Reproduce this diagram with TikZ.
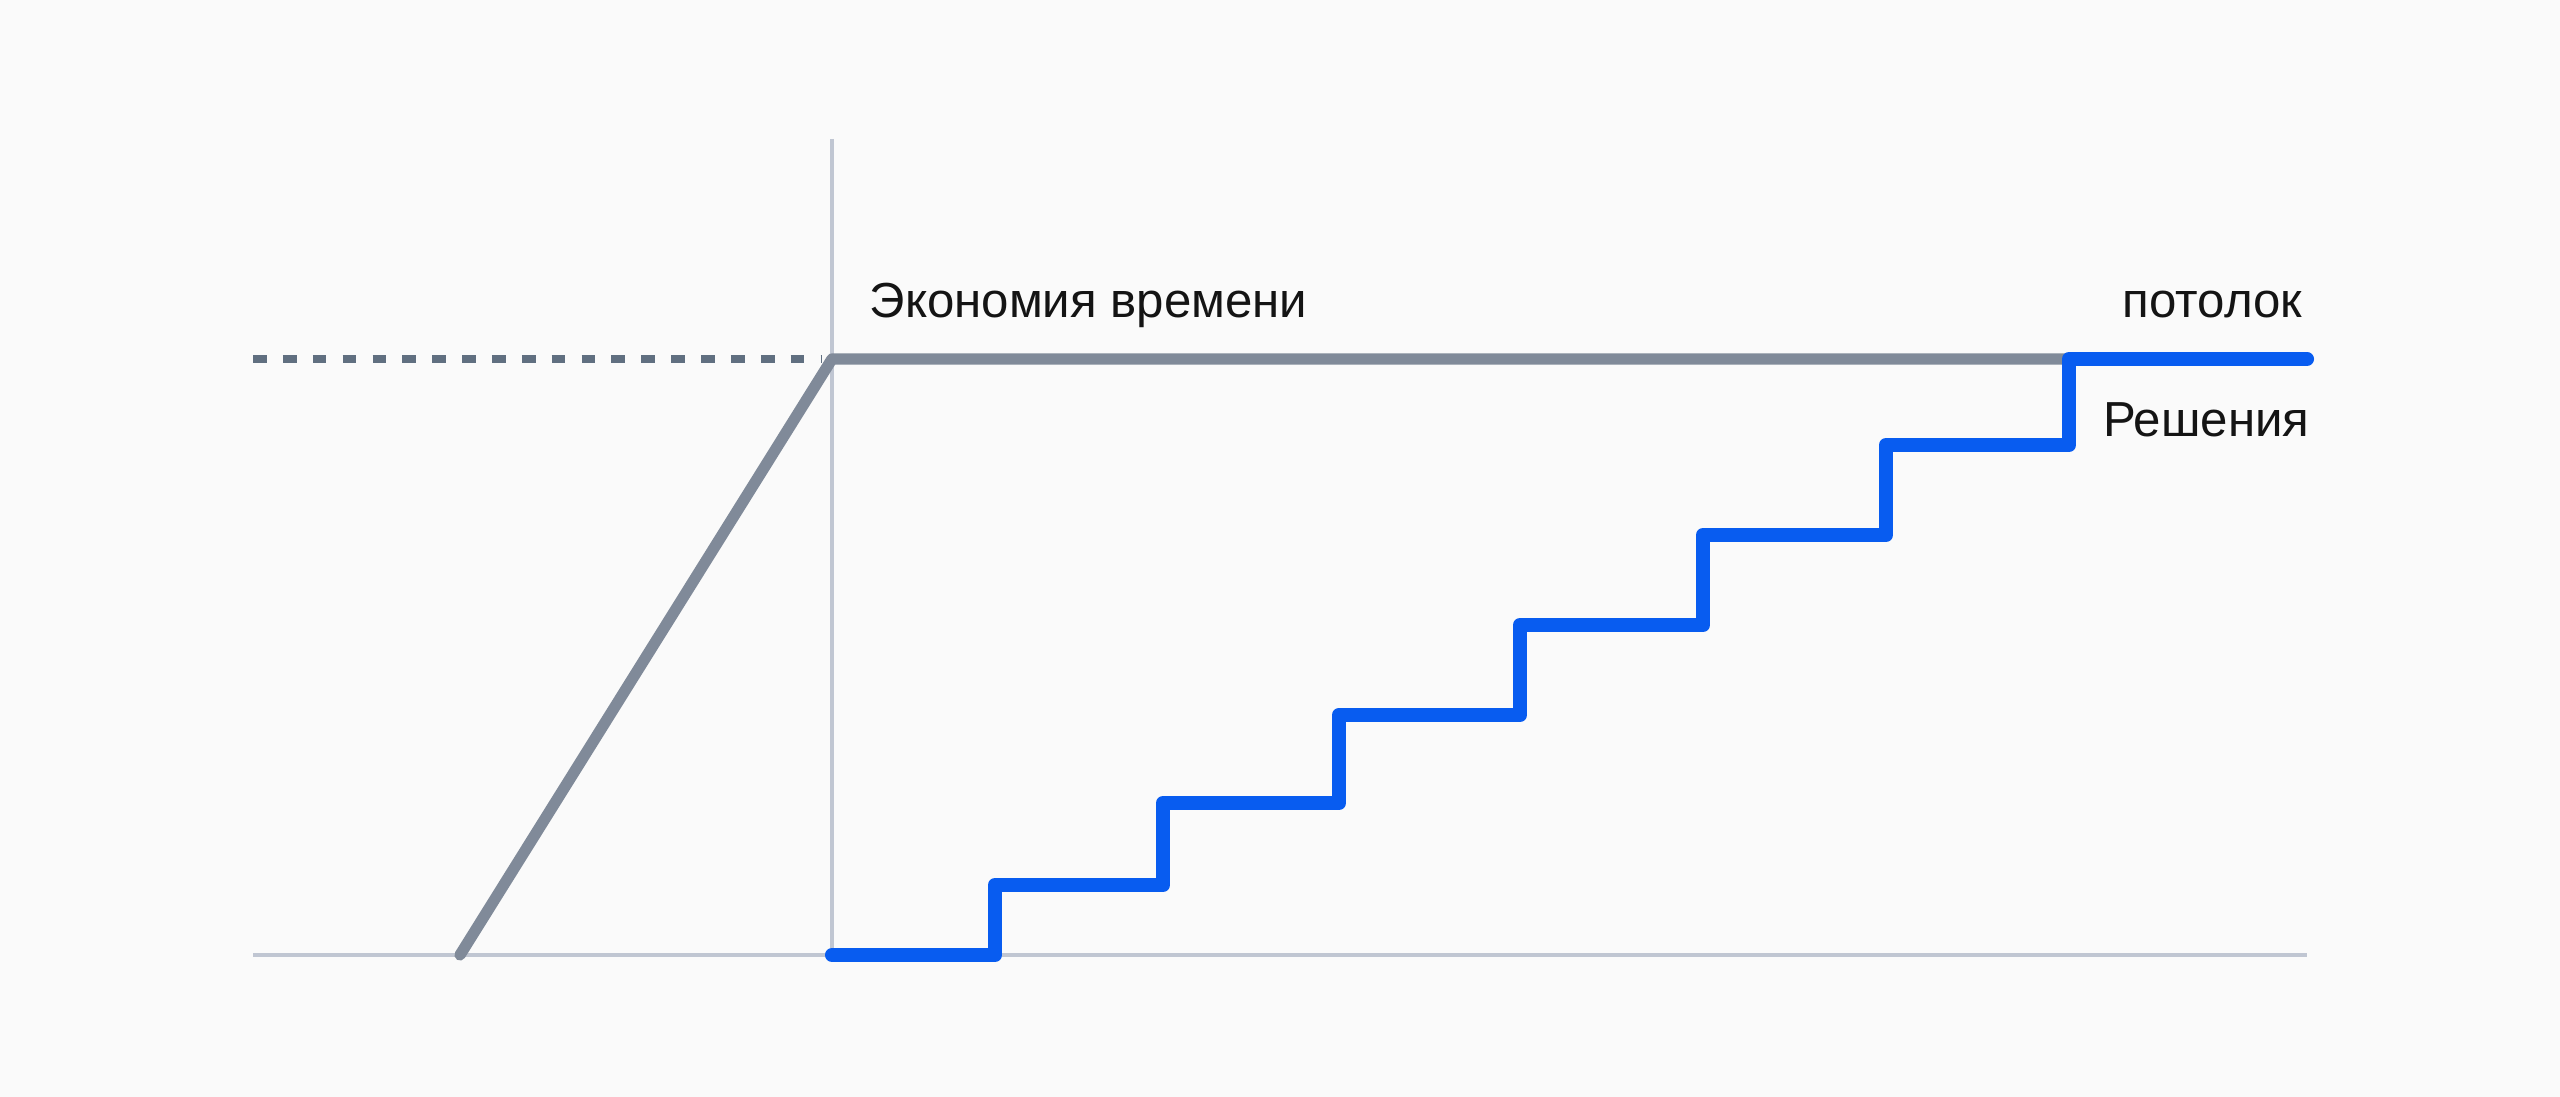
\documentclass[tikz,border=0pt]{standalone}
\usepackage{fontspec}
\setmainfont{Liberation Sans}
\definecolor{bggray}{RGB}{250,250,250}
\definecolor{axisgray}{RGB}{192,198,210}
\definecolor{slate}{RGB}{128,138,153}
\definecolor{dashslate}{RGB}{96,111,128}
\definecolor{stepblue}{RGB}{8,92,240}
\begin{document}
\begin{tikzpicture}[
    axis/.style={draw=axisgray, line width=1pt},
    ceil/.style={draw=slate, line width=3.2pt, line cap=round, line join=round},
    stairs/.style={draw=stepblue, line width=4pt, line cap=round, line join=round},
    lbl/.style={font=\fontsize{14}{17}\selectfont, text=black!92, inner sep=0pt}]
\fill[bggray] (0,0) rectangle (25.6,10.97);
\useasboundingbox (0,0) rectangle (25.6,10.97);
\coordinate (O) at (8.32,1.42);
\coordinate (top) at (8.32,7.38);
% axes
\draw[axis] (2.53,1.42)--(23.07,1.42);
\draw[axis] (8.32,9.58)--(O);
\draw[dashslate, line width=2pt, dash pattern=on 3.9pt off 4.6pt] (2.53,7.38)--(8.22,7.38);
% ramp and ceiling
\draw[ceil] (4.60,1.42)--(top)--(20.69,7.38);
% steps
\draw[stairs] (O) -| (9.95,2.12) -| (11.63,2.94) -| (13.39,3.82) -| (15.20,4.72)
    -| (17.03,5.62) -| (18.86,6.52) -| (20.69,7.38) -- (23.07,7.38);
\node[lbl, anchor=base west] (save) at (8.69,7.79) {Экономия времени};
\node[lbl, anchor=base east] (ceiling) at (23.03,7.79) {потолок};
\node[lbl, anchor=base east] (sol) at (23.10,6.60) {Решения};
\end{tikzpicture}
\end{document}
